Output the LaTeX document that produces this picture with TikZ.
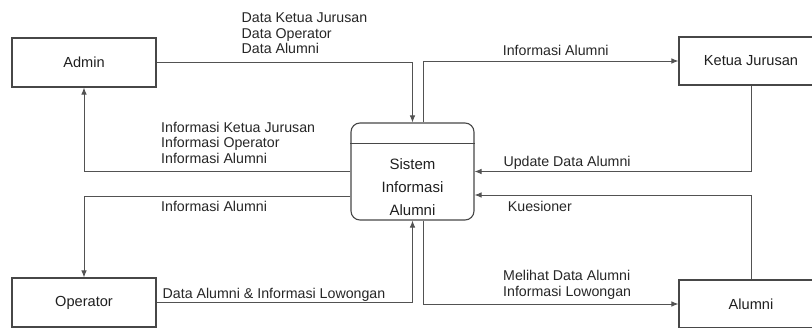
\documentclass[tikz,border=0pt]{standalone}
\usepackage{fontspec}
\setmainfont{Liberation Sans}
\usetikzlibrary{arrows.meta}
\begin{document}
\begin{tikzpicture}[x=1pt,y=-1pt,
  ent/.style={draw=black!72, line width=1.1pt, minimum width=144pt, inner sep=0pt,
    text=black!88, font=\fontsize{14.6}{17}\selectfont},
  proc/.style={draw=black!72, line width=1.1pt, rounded corners=9pt, minimum width=123pt,
    minimum height=97pt, inner sep=0pt},
  flow/.style={draw=black!68, line width=0.9pt, -{Latex[length=7pt,width=5.5pt]}},
  lbl/.style={anchor=base west, inner sep=0pt, align=left, text=black!85,
    font=\fontsize{14.2}{15.6}\selectfont}
]
\useasboundingbox (0,0) rectangle (812,327);
\clip (0,0) rectangle (812,327);

% entities
\node[ent, minimum height=49pt] (admin) at (84,62.5) {Admin};
\node[ent, minimum height=48pt] (ketua) at (751,61) {Ketua Jurusan};
\node[ent, minimum height=49pt] (oper) at (84,302.5) {Operator};
\node[ent, minimum height=48pt] (alumni) at (751,304) {Alumni};

% process
\node[proc] (sys) at (412.5,171.5) {};
\draw[draw=black!72, line width=1.1pt] ([yshift=-21pt]sys.north west) -- ([yshift=-21pt]sys.north east);
\node[align=center, inner sep=0pt, text=black!88, font=\fontsize{15}{23}\selectfont] (systext) at (412.5,187) {Sistem\\Informasi\\Alumni};

% flows
\draw[flow] (admin.east) -| (sys.north);
\draw[flow] ([xshift=11pt]sys.north) |- (ketua.west);
\draw[flow] (ketua.south) |- (sys.east);
\draw[flow] (alumni.north) |- ([yshift=-23.5pt]sys.east);
\draw[flow] (sys.west) -| (admin.south);
\draw[flow] ([yshift=-24.5pt]sys.west) -| (oper.north);
\draw[flow] (oper.east) -| (sys.south);
\draw[flow] ([xshift=11pt]sys.south) |- (alumni.west);

% labels (base = baseline of last line)
\node[lbl] (l1) at (241.5,53.8) {Data Ketua Jurusan\\Data Operator\\Data Alumni};
\node[lbl] (l2) at (161,163.5) {Informasi Ketua Jurusan\\Informasi Operator\\Informasi Alumni};
\node[lbl] (l3) at (161,211.7) {Informasi Alumni};
\node[lbl] (l4) at (162.5,298.3) {Data Alumni \& Informasi Lowongan};
\node[lbl] (l5) at (502.7,55) {Informasi Alumni};
\node[lbl] (l6) at (503.3,166.5) {Update Data Alumni};
\node[lbl] (l7) at (507.7,211.7) {Kuesioner};
\node[lbl] (l8) at (503,296.5) {Melihat Data Alumni\\Informasi Lowongan};
\end{tikzpicture}
\end{document}
